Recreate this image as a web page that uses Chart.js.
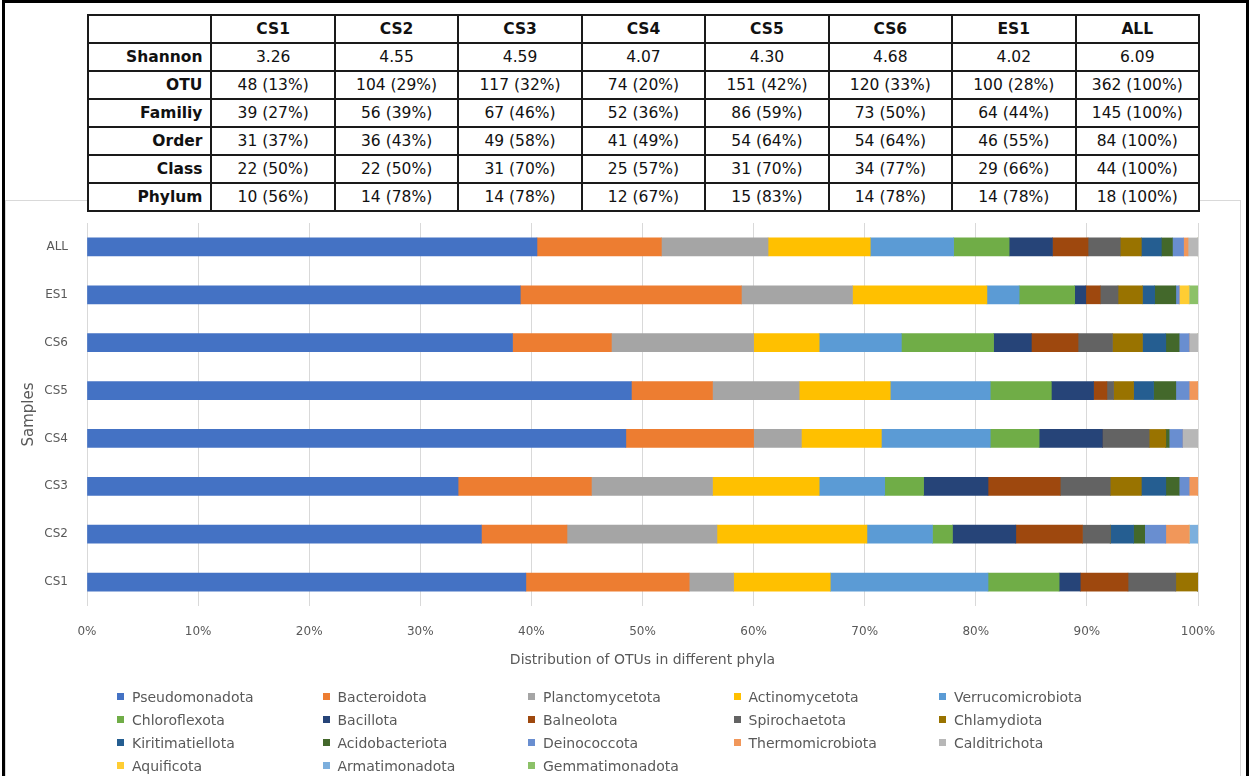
<!DOCTYPE html>
<html>
<head>
<meta charset="utf-8">
<script src="https://cdn.jsdelivr.net/npm/chart.js@4"></script>
<style>
  html, body { margin:0; padding:0; background:#fff; }
  body { width:1251px; height:776px; position:relative; overflow:hidden; font-family:"DejaVu Sans", sans-serif; }
  #c { position:absolute; left:0; top:0; }
  #box { position:absolute; left:5px; top:200px; width:1234px; height:600px; border:1px solid #d9d9d9; }
  #frame { position:absolute; left:2px; top:0px; width:1241px; height:800px; border-left:3px solid #000; border-top:3px solid #000; border-right:3px solid #000; }
  #tbl { position:absolute; left:87px; top:14px; width:1113px; height:197px; border-collapse:collapse; table-layout:fixed; background:#fff; font-size:15.5px; color:#111; }
  #tbl tr { height:28px; }
  #tbl td { border:2px solid #1a1a1a; padding:0; text-align:center; white-space:nowrap; }
  #tbl tr:first-child td { font-weight:bold; }
  #tbl td.rh { font-weight:bold; text-align:right; padding-right:8px; }
  #legend { position:absolute; left:0; top:0; width:1251px; height:776px; pointer-events:none; }
  .li { position:absolute; font-size:14px; color:#595959; white-space:nowrap; line-height:16px; }
  .li span.m { position:absolute; left:0; top:4px; width:7px; height:7px; }
  .li span.t { position:absolute; left:15px; top:0; }
</style>
</head>
<body>
<div id="box"></div>
<canvas id="c" width="1251" height="776"></canvas>
<table id="tbl"></table>
<div id="legend"></div>
<div id="frame"></div>
<script>
// ---- Data ----
const samples = ['CS1','CS2','CS3','CS4','CS5','CS6','ES1','ALL'];
const phyla = ['Pseudomonadota','Bacteroidota','Planctomycetota','Actinomycetota','Verrucomicrobiota',
  'Chloroflexota','Bacillota','Balneolota','Spirochaetota','Chlamydiota',
  'Kiritimatiellota','Acidobacteriota','Deinococcota','Thermomicrobiota','Calditrichota',
  'Aquificota','Armatimonadota','Gemmatimonadota'];
// percent of OTUs per phylum, in sample order CS1..ALL
const pseudomonadota   = [39.5, 35.5, 33.4, 48.5, 49.0, 38.3, 39.0, 40.5];
const bacteroidota     = [14.7,  7.7, 12.0, 11.5,  7.3,  8.9, 19.9, 11.2];
const planctomycetota  = [ 4.0, 13.5, 10.9,  4.3,  7.8, 12.8, 10.0,  9.6];
const actinomycetota   = [ 8.7, 13.5,  9.6,  7.2,  8.2,  5.9, 12.1,  9.2];
const verrucomicrobiota= [14.2,  5.9,  5.9,  9.8,  9.0,  7.4,  2.9,  7.5];
const chloroflexota    = [ 6.4,  1.8,  3.5,  4.4,  5.5,  8.3,  5.0,  5.0];
const bacillota        = [ 1.9,  5.7,  5.8,  5.7,  3.8,  3.4,  1.0,  3.9];
const balneolota       = [ 4.3,  6.0,  6.5,  0.0,  1.2,  4.2,  1.3,  3.2];
const spirochaetota    = [ 4.3,  2.5,  4.5,  4.2,  0.6,  3.1,  1.6,  2.9];
const chlamydiota      = [ 2.0,  0.0,  2.8,  1.5,  1.8,  2.7,  2.2,  1.9];
const kiritimatiellota = [ 0.0,  2.1,  2.2,  0.0,  1.8,  2.1,  1.1,  1.8];
const acidobacteriota  = [ 0.0,  1.0,  1.2,  0.3,  2.0,  1.2,  1.9,  1.0];
const deinococcota     = [ 0.0,  1.9,  0.9,  1.2,  1.2,  0.9,  0.3,  1.0];
const thermomicrobiota = [ 0.0,  2.1,  0.8,  0.0,  0.8,  0.0,  0.0,  0.4];
const calditrichota    = [ 0.0,  0.0,  0.0,  1.4,  0.0,  0.8,  0.0,  0.9];
const aquificota       = [ 0.0,  0.0,  0.0,  0.0,  0.0,  0.0,  0.9,  0.0];
const armatimonadota   = [ 0.0,  0.8,  0.0,  0.0,  0.0,  0.0,  0.0,  0.0];
const gemmatimonadota  = [ 0.0,  0.0,  0.0,  0.0,  0.0,  0.0,  0.8,  0.0];
const seriesValues = [pseudomonadota, bacteroidota, planctomycetota, actinomycetota, verrucomicrobiota,
  chloroflexota, bacillota, balneolota, spirochaetota, chlamydiota,
  kiritimatiellota, acidobacteriota, deinococcota, thermomicrobiota, calditrichota,
  aquificota, armatimonadota, gemmatimonadota];
const xTicks = [0,10,20,30,40,50,60,70,80,90,100];

// table data
const tableHeader = ['', 'CS1','CS2','CS3','CS4','CS5','CS6','ES1','ALL'];
const rowNames = ['Shannon','OTU','Familiy','Order','Class','Phylum'];
const shannonRow = ['3.26','4.55','4.59','4.07','4.30','4.68','4.02','6.09'];
const otuRow = ['48 (13%)','104 (29%)','117 (32%)','74 (20%)','151 (42%)','120 (33%)','100 (28%)','362 (100%)'];
const familyRow = ['39 (27%)','56 (39%)','67 (46%)','52 (36%)','86 (59%)','73 (50%)','64 (44%)','145 (100%)'];
const orderRow = ['31 (37%)','36 (43%)','49 (58%)','41 (49%)','54 (64%)','54 (64%)','46 (55%)','84 (100%)'];
const classRow = ['22 (50%)','22 (50%)','31 (70%)','25 (57%)','31 (70%)','34 (77%)','29 (66%)','44 (100%)'];
const phylumRow = ['10 (56%)','14 (78%)','14 (78%)','12 (67%)','15 (83%)','14 (78%)','14 (78%)','18 (100%)'];

// ---- Styles ----
const colors = ['#4472C4','#ED7D31','#A5A5A5','#FFC000','#5B9BD5',
  '#70AD47','#264478','#9E480E','#636363','#997300',
  '#255E91','#43682B','#698ED0','#F1975A','#B7B7B7',
  '#FFCD33','#7CAFDD','#8CC168'];

// ---- Table ----
const tbl = document.getElementById('tbl');
const rows = [shannonRow, otuRow, familyRow, orderRow, classRow, phylumRow];
let html = '<tr>' + tableHeader.map(h => '<td>' + h + '</td>').join('') + '</tr>';
rows.forEach((r, i) => {
  html += '<tr><td class="rh">' + rowNames[i] + '</td>' + r.map(v => '<td>' + v + '</td>').join('') + '</tr>';
});
tbl.innerHTML = html;

// ---- Chart ----
const tickFont = { family: 'DejaVu Sans', size: 12 };
const chart = new Chart(document.getElementById('c'), {
  type: 'bar',
  data: {
    labels: samples,
    datasets: phyla.map((name, i) => ({
      label: name,
      data: seriesValues[i],
      backgroundColor: colors[i],
      borderWidth: 0,
      barThickness: 18
    }))
  },
  options: {
    indexAxis: 'y',
    responsive: false,
    animation: false,
    layout: { padding: { left: 0, top: 223, right: 53, bottom: 100 } },
    plugins: { legend: { display: false }, tooltip: { enabled: false } },
    scales: {
      x: {
        stacked: true, min: 0, max: 100,
        afterBuildTicks: s => { s.ticks = xTicks.map(v => ({ value: v })); },
        ticks: { callback: v => v + '%', color: '#595959', font: tickFont, padding: 19, maxRotation: 0 },
        grid: { color: '#d9d9d9', drawTicks: false },
        border: { display: false },
        title: { display: true, text: 'Distribution of OTUs in different phyla', color: '#595959',
                 font: { family: 'DejaVu Sans', size: 14 }, padding: { top: 0, bottom: 7 } },
        afterFit: s => { s.height = 70; }
      },
      y: {
        stacked: true, reverse: true,
        grid: { display: false, drawTicks: false },
        border: { display: false },
        ticks: { color: '#595959', font: tickFont, padding: 19 },
        title: { display: true, text: 'Samples', color: '#595959',
                 font: { family: 'DejaVu Sans', size: 15 }, padding: { top: 20, bottom: 0 } },
        afterFit: s => { s.width = 87; }
      }
    }
  }
});

// ---- Legend (grid, from chart datasets) ----
const legend = document.getElementById('legend');
chart.data.datasets.forEach((ds, i) => {
  const row = Math.floor(i / 5), col = i % 5;
  const d = document.createElement('div');
  d.className = 'li';
  d.style.left = (117 + col * 205.5) + 'px';
  d.style.top = (697 + row * 23 - 8) + 'px';
  d.innerHTML = '<span class="m" style="background:' + ds.backgroundColor + '"></span><span class="t">' + ds.label + '</span>';
  legend.appendChild(d);
});
</script>
</body>
</html>
